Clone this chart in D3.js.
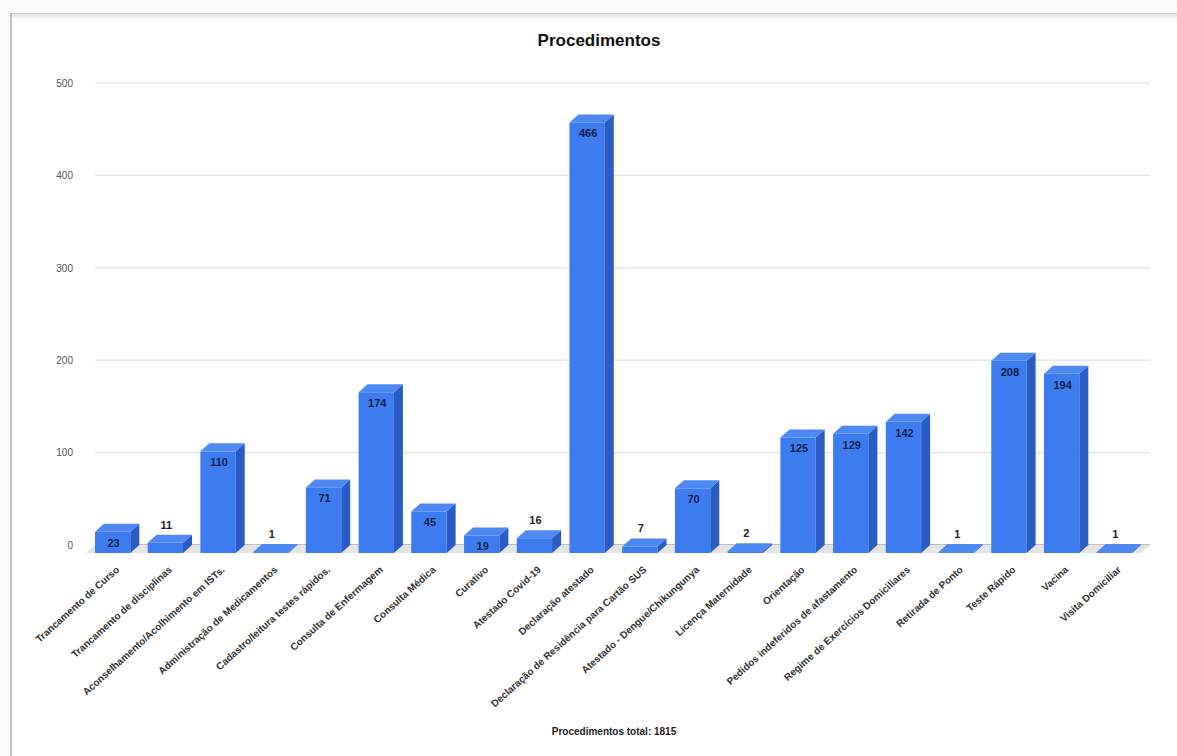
<!DOCTYPE html>
<html>
<head>
<meta charset="utf-8">
<script src="https://cdn.jsdelivr.net/npm/d3@7"></script>
<style>
  html, body { margin: 0; padding: 0; background: #fafafa; }
  svg { display: block; font-family: "Liberation Sans", Arial, sans-serif; }
</style>
</head>
<body>
<svg id="chart" width="1177" height="756"></svg>
<script>
// Procedures recorded, one bar per category
const categories = [
  "Trancamento de Curso",
  "Trancamento de disciplinas",
  "Aconselhamento/Acolhimento em ISTs.",
  "Administração de Medicamentos",
  "Cadastro/leitura testes rápidos.",
  "Consulta de Enfermagem",
  "Consulta Médica",
  "Curativo",
  "Atestado Covid-19",
  "Declaração atestado",
  "Declaração de Residência para Cartão SUS",
  "Atestado - Dengue/Chikungunya",
  "Licença Maternidade",
  "Orientação",
  "Pedidos indeferidos de afastamento",
  "Regime de Exercícios Domiciliares",
  "Retirada de Ponto",
  "Teste Rápido",
  "Vacina",
  "Visita Domiciliar"
];
const values = [23, 11, 110, 1, 71, 174, 45, 19, 16, 466, 7, 70, 2, 125, 129, 142, 1, 208, 194, 1];
const yTicks = [0, 100, 200, 300, 400, 500];
const title = "Procedimentos";
const footer = "Procedimentos total: 1815";

const svg = d3.select("#chart");
const W = 1177, H = 756;

// page frame
svg.append("rect").attr("x", 0).attr("y", 0).attr("width", W).attr("height", H).attr("fill", "#fafafa");
const defs = svg.append("defs");
const sh = defs.append("linearGradient").attr("id", "topShadow").attr("x1", 0).attr("x2", 0).attr("y1", 0).attr("y2", 1);
sh.append("stop").attr("offset", "0%").attr("stop-color", "#d8d8d8");
sh.append("stop").attr("offset", "100%").attr("stop-color", "#ffffff");
svg.append("rect").attr("x", 10).attr("y", 13).attr("width", W - 10).attr("height", H - 13).attr("fill", "#ffffff");
svg.append("rect").attr("x", 10).attr("y", 13).attr("width", W - 10).attr("height", 6).attr("fill", "url(#topShadow)");
svg.append("line").attr("x1", 10).attr("x2", W).attr("y1", 13.5).attr("y2", 13.5).attr("stroke", "#d0d0d0").attr("stroke-width", 1);
svg.append("line").attr("x1", 11).attr("x2", 11).attr("y1", 13).attr("y2", H).attr("stroke", "#c4c4c4").attr("stroke-width", 2);

// 3D geometry: back wall vs. front plane offset
const depthX = 9, depthY = 8;
const backLeft = 95, backRight = 1150;

const y = d3.scaleLinear().domain([0, 500]).range([545, 83]);
const x = d3.scaleBand()
  .domain(categories)
  .range([backLeft - depthX, backRight - depthX])
  .paddingInner(0.33)
  .paddingOuter(0.17);

// gridlines on back wall
svg.append("g").selectAll("line").data(yTicks).join("line")
  .attr("x1", backLeft).attr("x2", backRight)
  .attr("y1", d => y(d)).attr("y2", d => y(d))
  .attr("stroke", d => d === 0 ? "#a8a8a8" : "#e2e2e2")
  .attr("stroke-width", d => d === 0 ? 1.5 : 1.2);

// floor
const y0 = y(0);
svg.append("path")
  .attr("d", `M${backLeft},${y0} L${backRight},${y0} L${backRight - depthX},${y0 + depthY} L${backLeft - depthX},${y0 + depthY} Z`)
  .attr("fill", "#e4e4e4");

// y axis labels
const yAxis = d3.axisLeft(y).tickValues(yTicks).tickSize(0).tickPadding(0);
const yg = svg.append("g").attr("transform", "translate(73,0)").call(yAxis);
yg.select(".domain").remove();
yg.selectAll("text").attr("font-size", 10).attr("fill", "#555").attr("font-family", "Liberation Sans, Arial, sans-serif");

// bars
const data = categories.map((c, i) => ({ c, v: values[i] }));
const bw = x.bandwidth();
const frontY = v => y(v) + depthY;
const g = svg.append("g");
const bars = g.selectAll("g.bar").data(data).join("g").attr("class", "bar");

bars.append("rect")
  .attr("x", d => x(d.c)).attr("width", bw)
  .attr("y", d => frontY(d.v))
  .attr("height", d => frontY(0) - frontY(d.v))
  .attr("fill", "#3d7cf0");

bars.append("path")
  .attr("d", d => {
    const x0 = x(d.c), yt = frontY(d.v), yb = frontY(0);
    return `M${x0 + bw},${yt} L${x0 + bw + depthX},${yt - depthY} L${x0 + bw + depthX},${yb - depthY} L${x0 + bw},${yb} Z`;
  })
  .attr("fill", "#2a5cc6");

bars.append("path")
  .attr("d", d => {
    const x0 = x(d.c), yt = frontY(d.v);
    return `M${x0},${yt} L${x0 + bw},${yt} L${x0 + bw + depthX},${yt - depthY} L${x0 + depthX},${yt - depthY} Z`;
  })
  .attr("fill", "#4d88f3");

// value labels
const inside = v => v >= 19;
bars.append("text")
  .attr("x", d => x(d.c) + bw / 2 + 1)
  .attr("y", d => inside(d.v) ? frontY(d.v) + 11 : y(d.v) - 10)
  .attr("dy", "0.35em")
  .attr("text-anchor", "middle")
  .attr("font-size", 11)
  .attr("font-weight", "bold")
  .attr("fill", d => inside(d.v) ? "#0e1f48" : "#222")
  .text(d => d.v);

// category labels
const xg = svg.append("g");
xg.selectAll("text").data(categories).join("text")
  .attr("transform", c => `translate(${x(c) + bw / 2 + 5},${568}) rotate(-42)`)
  .attr("text-anchor", "end")
  .attr("dy", "0.35em")
  .attr("font-size", 10)
  .attr("font-weight", "bold")
  .attr("fill", "#333")
  .text(c => c);

// title and footer
svg.append("text").attr("x", 599).attr("y", 46).attr("text-anchor", "middle")
  .attr("font-size", 17).attr("font-weight", "bold").attr("fill", "#111").text(title);
svg.append("text").attr("x", 614).attr("y", 735).attr("text-anchor", "middle")
  .attr("font-size", 10).attr("font-weight", "bold").attr("fill", "#222").text(footer);
</script>
</body>
</html>
